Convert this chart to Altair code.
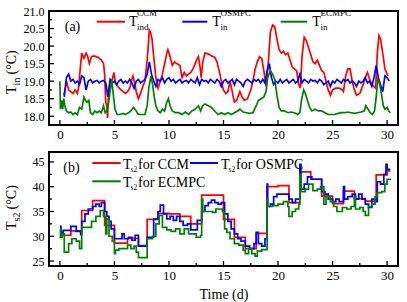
import altair as alt
import pandas as pd

FONT = "Liberation Serif"
RED, BLUE, GREEN = "#ff0000", "#0000ff", "#008000"

W, H = 349, 114
X_DOMAIN = [-1, 31]
TOP_Y = [17.75, 21.0]
BOT_Y = [24, 47]

x_major = [0, 5, 10, 15, 20, 25, 30]
x_minor = [2.5, 7.5, 12.5, 17.5, 22.5, 27.5]
top_y_major = [18.0, 18.5, 19.0, 19.5, 20.0, 20.5, 21.0]
top_y_minor = [18.25, 18.75, 19.25, 19.75, 20.25, 20.75]
bot_y_major = [25, 30, 35, 40, 45]
bot_y_minor = [27.5, 32.5, 37.5, 42.5]

# ---- panel (a): indoor temperatures (day, degC)
tin_ccm = [
    (0.35, 18.6), (0.5, 18.8), (0.6, 19.0), (0.8, 18.75), (1.0, 18.7), (1.2, 18.65), (1.4, 18.75),
    (1.6, 18.65), (1.7, 18.8), (1.85, 19.3), (2.0, 19.8), (2.2, 19.65), (2.4, 19.8), (2.55, 19.7),
    (2.7, 19.5), (2.9, 19.7), (3.1, 19.72), (3.3, 19.7), (3.5, 19.68), (3.8, 19.6), (4.0, 19.5),
    (4.1, 19.2), (4.2, 18.4), (4.3, 18.3), (4.37, 17.95), (4.45, 18.6), (4.6, 18.9), (4.8, 19.05),
    (4.95, 19.25), (5.1, 18.95), (5.3, 18.85), (5.6, 18.75), (5.8, 18.7), (6.0, 18.65), (6.2, 18.7),
    (6.4, 18.8), (6.55, 19.0), (6.7, 19.15), (6.85, 18.95), (7.0, 18.7), (7.2, 18.5), (7.4, 18.65),
    (7.6, 18.85), (7.8, 19.0), (8.0, 19.6), (8.1, 20.0), (8.2, 20.45), (8.3, 20.4), (8.45, 20.2),
    (8.6, 19.7), (8.8, 19.1), (9.0, 18.8), (9.2, 19.0), (9.4, 19.2), (9.6, 19.5), (9.8, 19.8),
    (9.9, 19.9), (10.1, 19.7), (10.3, 19.45), (10.5, 19.55), (10.7, 19.5), (11.0, 19.45), (11.2, 19.1),
    (11.4, 19.25), (11.6, 19.15), (11.8, 19.2), (12.0, 19.25), (12.2, 19.35), (12.4, 19.5), (12.6, 19.65),
    (12.7, 19.7), (12.85, 19.4), (12.95, 19.1), (13.1, 19.55), (13.3, 19.8), (13.6, 19.78), (13.9, 19.72),
    (14.2, 19.68), (14.4, 19.55), (14.6, 19.3), (14.8, 19.0), (15.0, 18.75), (15.2, 18.65), (15.4, 18.7),
    (15.6, 19.0), (15.8, 18.7), (16.0, 18.4), (16.2, 18.45), (16.5, 18.7), (16.7, 18.55), (16.9, 18.45),
    (17.2, 18.5), (17.5, 18.75), (17.7, 19.0), (17.9, 19.35), (18.1, 19.55), (18.3, 19.7), (18.5, 19.65),
    (18.7, 19.3), (18.9, 18.85), (19.1, 19.5), (19.3, 20.4), (19.5, 20.6), (19.7, 20.55), (19.9, 20.2),
    (20.1, 19.9), (20.3, 19.8), (20.5, 19.85), (20.7, 19.75), (20.9, 19.8), (21.1, 19.6), (21.3, 19.4),
    (21.5, 19.35), (21.7, 19.3), (21.9, 18.9), (22.05, 18.8), (22.2, 19.7), (22.4, 20.25), (22.6, 20.15),
    (22.8, 19.95), (23.0, 19.75), (23.2, 19.55), (23.4, 19.5), (23.6, 19.6), (23.8, 19.45), (24.0, 19.3),
    (24.2, 19.25), (24.4, 19.0), (24.6, 18.75), (24.8, 18.6), (25.0, 18.75), (25.3, 18.8), (25.6, 18.8),
    (25.9, 18.75), (26.0, 18.7), (26.2, 19.15), (26.4, 19.35), (26.6, 19.35), (26.8, 19.0), (27.0, 18.75),
    (27.2, 18.6), (27.5, 18.65), (27.8, 18.9), (28.0, 19.1), (28.2, 19.25), (28.4, 19.05), (28.6, 18.9),
    (28.8, 18.85), (28.95, 18.8), (29.1, 19.8), (29.25, 20.3), (29.4, 20.2), (29.6, 19.8), (29.8, 19.35),
    (30.0, 19.2), (30.1, 19.15),
]

tin_osmpc = [
    (0.4, 18.55), (0.6, 19.1), (0.8, 19.2), (1.0, 19.0), (1.2, 19.05), (1.4, 18.95), (1.6, 19.0), (1.8, 18.9), (2.0, 19.15), (2.2, 19.1),
    (2.4, 18.75), (2.6, 19.0), (2.8, 19.05), (3.0, 18.95), (3.2, 19.0), (3.4, 19.02), (3.6, 18.95), (3.8, 19.0), (4.0, 19.02), (4.2, 18.95),
    (4.4, 18.55), (4.6, 19.05), (4.8, 18.95), (5.0, 19.0), (5.2, 18.9), (5.4, 19.0), (5.6, 19.05), (5.8, 18.95), (6.0, 19.0), (6.2, 18.95),
    (6.4, 19.05), (6.6, 18.95), (6.8, 18.8), (7.0, 19.0), (7.2, 19.05), (7.4, 18.95), (7.6, 19.0), (7.8, 19.05), (8.0, 19.2), (8.2, 19.55),
    (8.4, 19.2), (8.6, 19.0), (8.8, 18.85), (9.0, 19.05), (9.2, 19.0), (9.4, 19.1), (9.6, 18.95), (9.8, 19.05), (10.0, 19.1), (10.2, 19.0),
    (10.4, 19.05), (10.6, 18.95), (10.8, 19.0), (11.0, 19.05), (11.2, 18.95), (11.4, 19.0), (11.6, 19.02), (11.8, 18.95), (12.0, 19.05), (12.2, 19.0),
    (12.4, 18.95), (12.6, 19.1), (12.8, 18.9), (13.0, 19.05), (13.2, 19.0), (13.4, 19.02), (13.6, 18.95), (13.8, 19.05), (14.0, 19.0), (14.2, 18.95),
    (14.4, 19.05), (14.6, 19.0), (14.8, 18.85), (15.0, 19.0), (15.2, 19.05), (15.4, 18.95), (15.6, 19.0), (15.8, 19.05), (16.0, 18.9), (16.2, 19.05),
    (16.4, 19.0), (16.6, 18.95), (16.8, 18.85), (17.0, 19.0), (17.2, 19.05), (17.4, 19.0), (17.6, 18.95), (17.8, 19.05), (18.0, 19.0), (18.2, 19.05),
    (18.4, 18.95), (18.6, 19.05), (18.8, 18.95), (19.0, 19.3), (19.2, 19.5), (19.4, 19.1), (19.6, 18.9), (19.8, 19.0), (20.0, 18.95), (20.2, 19.05),
    (20.4, 18.95), (20.6, 19.0), (20.8, 19.05), (21.0, 18.95), (21.2, 19.0), (21.4, 19.05), (21.6, 18.95), (21.8, 19.0), (22.0, 19.2), (22.2, 18.95),
    (22.4, 19.05), (22.6, 19.0), (22.8, 18.95), (23.0, 19.05), (23.2, 19.0), (23.4, 19.02), (23.6, 18.95), (23.8, 19.05), (24.0, 19.0), (24.2, 18.9),
    (24.4, 18.95), (24.6, 19.0), (24.8, 18.85), (25.0, 19.0), (25.2, 18.95), (25.4, 19.05), (25.6, 19.0), (25.8, 18.95), (26.0, 19.05), (26.2, 19.0),
    (26.4, 19.05), (26.6, 18.95), (26.8, 19.0), (27.0, 18.95), (27.2, 18.85), (27.4, 19.0), (27.6, 18.95), (27.8, 19.0), (28.0, 19.1), (28.2, 18.95),
    (28.4, 19.0), (28.6, 18.85), (28.8, 19.1), (29.0, 19.45), (29.2, 19.1), (29.4, 18.9), (29.6, 18.7), (29.8, 19.15), (30.0, 19.1), (30.2, 19.0),
]

tin_ecmpc = [
    (0.0, 19.0), (0.05, 18.2), (0.15, 18.45), (0.25, 18.2), (0.35, 18.5), (0.45, 18.3), (0.6, 18.15), (0.8, 18.1),
    (1.0, 18.12), (1.2, 18.05), (1.4, 18.1), (1.6, 18.05), (1.8, 18.25), (2.0, 18.2), (2.2, 18.55), (2.35, 18.45),
    (2.5, 18.4), (2.65, 18.45), (2.8, 18.1), (3.0, 18.05), (3.2, 18.15), (3.4, 18.1), (3.6, 18.15), (3.8, 18.1),
    (4.0, 18.3), (4.15, 18.1), (4.3, 18.15), (4.45, 18.35), (4.6, 18.7), (4.75, 19.05), (4.9, 18.6), (5.05, 18.2),
    (5.25, 18.05), (5.5, 18.05), (5.8, 18.08), (6.0, 18.05), (6.3, 18.1), (6.5, 18.15), (6.75, 18.25), (7.0, 18.15),
    (7.2, 18.05), (7.5, 18.05), (7.8, 18.05), (8.0, 18.3), (8.15, 18.8), (8.35, 19.15), (8.5, 18.9), (8.65, 18.55),
    (8.8, 18.3), (9.0, 18.15), (9.2, 18.1), (9.4, 18.2), (9.6, 18.15), (9.8, 18.4), (9.95, 18.5), (10.1, 18.3),
    (10.3, 18.15), (10.6, 18.1), (10.9, 18.1), (11.2, 18.05), (11.5, 18.12), (11.8, 18.05), (12.1, 18.15), (12.4, 18.2),
    (12.7, 18.3), (12.9, 18.15), (13.1, 18.3), (13.3, 18.35), (13.6, 18.3), (13.9, 18.25), (14.2, 18.15), (14.5, 18.05),
    (14.8, 18.1), (15.1, 18.05), (15.4, 18.1), (15.7, 18.05), (16.0, 18.1), (16.3, 18.15), (16.5, 18.2), (16.8, 18.12),
    (17.1, 18.1), (17.4, 18.08), (17.7, 18.1), (18.0, 18.3), (18.2, 18.45), (18.45, 18.5), (18.7, 18.55), (18.9, 18.7),
    (19.05, 19.1), (19.3, 19.3), (19.5, 19.2), (19.7, 19.05), (19.9, 18.6), (20.1, 18.25), (20.3, 18.15), (20.6, 18.15),
    (20.9, 18.1), (21.2, 18.12), (21.5, 18.1), (21.8, 18.05), (22.0, 18.1), (22.15, 18.45), (22.35, 18.75), (22.5, 18.65),
    (22.7, 18.45), (22.9, 18.25), (23.1, 18.15), (23.4, 18.2), (23.7, 18.15), (24.0, 18.15), (24.3, 18.1), (24.6, 18.05),
    (24.9, 18.05), (25.2, 18.05), (25.5, 18.08), (25.8, 18.1), (26.1, 18.1), (26.4, 18.12), (26.7, 18.1), (27.0, 18.08),
    (27.3, 18.1), (27.6, 18.12), (27.9, 18.15), (28.05, 18.3), (28.25, 18.2), (28.45, 18.1), (28.65, 18.05), (28.85, 18.15),
    (29.0, 18.55), (29.15, 19.05), (29.3, 18.95), (29.5, 18.6), (29.65, 18.3), (29.8, 18.2), (30.0, 18.25), (30.15, 18.15),
    (30.3, 18.1),
]

# ---- panel (b): supply water temperature Ts2 (step changes)
ts2_ccm = [
    (0.3, 30.2), (1.0, 31.1), (2.0, 35.2), (3.0, 37.2), (4.1, 32.2), (5.0, 28.6), (6.2, 29.6), (7.2, 28.1),
    (8.0, 33.4), (9.0, 34.6), (10.0, 34.5), (11.0, 34.0), (12.0, 32.5), (13.0, 38.3), (15.0, 33.4),
    (16.0, 29.8), (17.0, 27.5), (18.0, 30.6), (19.0, 40.0), (20.0, 40.2), (21.0, 36.8), (22.0, 43.0),
    (23.0, 41.5), (24.0, 38.1), (25.0, 36.6), (26.0, 39.1), (27.0, 37.6), (28.0, 37.1), (29.0, 42.4),
    (30.0, 43.2), (30.3, 43.2),
]

ts2_osmpc = [
    (0.0, 32.0), (0.1, 30.8), (0.3, 31.2), (1.0, 32.0), (1.5, 31.0), (1.9, 30.3), (2.0, 33.0), (2.3, 34.5),
    (2.6, 35.5), (3.0, 36.0), (3.3, 36.5), (3.6, 36.0), (3.8, 36.8), (4.1, 35.0), (4.3, 34.0), (4.5, 33.0),
    (4.7, 31.5), (5.0, 29.5), (5.7, 30.5), (5.9, 29.5), (6.3, 29.8), (6.6, 29.2), (6.9, 30.2), (7.2, 28.0),
    (8.0, 29.8), (8.6, 33.5), (9.0, 35.0), (9.2, 36.3), (9.5, 34.5), (9.8, 33.5), (10.1, 34.0), (10.4, 33.2),
    (10.7, 34.0), (11.0, 33.0), (11.3, 32.2), (11.7, 32.5), (12.0, 31.3), (12.6, 33.2), (13.0, 35.0),
    (13.3, 36.2), (13.6, 36.8), (13.9, 37.3), (14.2, 36.8), (14.5, 36.5), (14.8, 36.8), (15.1, 34.5),
    (15.4, 33.0), (15.7, 31.5), (16.0, 30.5), (16.3, 29.5), (16.6, 29.0), (17.0, 28.0), (17.4, 27.5),
    (17.8, 28.5), (18.0, 30.8), (18.2, 28.5), (18.5, 28.0), (18.8, 29.5), (19.0, 40.5), (19.05, 36.0),
    (19.3, 36.5), (19.6, 38.0), (19.9, 38.5), (21.0, 37.5), (21.3, 36.8), (21.6, 37.5), (22.0, 44.5),
    (22.1, 39.5), (22.4, 40.5), (22.7, 42.0), (23.1, 41.5), (24.0, 39.0), (24.3, 38.5), (24.6, 37.5),
    (25.0, 37.0), (25.3, 37.5), (25.6, 37.0), (26.0, 40.0), (26.1, 37.5), (26.4, 38.0), (26.8, 38.5),
    (27.1, 37.5), (27.4, 38.5), (27.7, 37.5), (28.0, 36.5), (28.3, 35.8), (28.6, 37.5), (28.9, 37.0),
    (29.1, 41.0), (29.4, 40.5), (29.7, 42.5), (29.9, 44.5), (30.0, 43.5), (30.3, 43.5),
]

ts2_ecmpc = [
    (0.0, 31.3), (0.05, 29.8), (0.2, 30.5), (0.4, 26.8), (0.8, 28.5), (1.1, 29.5), (1.5, 29.0), (1.8, 27.5),
    (2.0, 31.8), (2.9, 33.0), (3.3, 34.0), (3.7, 35.2), (4.0, 34.0), (4.2, 30.5), (4.3, 33.5), (4.5, 30.0),
    (4.8, 29.0), (5.0, 26.5), (5.1, 27.2), (5.4, 27.5), (6.2, 28.2), (6.5, 27.5), (6.8, 28.0), (7.0, 26.8),
    (7.2, 25.7), (8.0, 29.5), (8.5, 30.0), (8.8, 32.5), (9.1, 34.2), (9.4, 31.8), (9.8, 31.3), (10.2, 31.0),
    (10.6, 31.5), (11.0, 30.5), (11.4, 31.5), (11.8, 30.5), (12.5, 29.8), (12.9, 30.2), (13.0, 37.5),
    (13.1, 35.0), (14.0, 34.8), (14.3, 35.5), (14.9, 35.0), (15.1, 31.5), (15.3, 30.8), (15.6, 29.5),
    (16.0, 28.5), (16.4, 28.2), (16.8, 27.2), (17.0, 26.5), (17.3, 27.5), (17.6, 26.5), (17.9, 26.0),
    (18.1, 27.0), (18.5, 27.3), (19.0, 37.5), (19.05, 36.0), (19.5, 36.2), (20.0, 36.5), (20.5, 37.0),
    (20.9, 36.0), (21.0, 34.0), (21.3, 35.0), (21.6, 35.5), (21.9, 36.5), (22.0, 42.5), (22.1, 39.0),
    (22.5, 39.5), (22.8, 40.5), (23.2, 39.2), (23.6, 39.5), (23.9, 40.0), (24.2, 36.5), (24.4, 38.0),
    (24.8, 37.0), (25.1, 36.0), (25.4, 35.0), (25.9, 35.8), (26.3, 35.5), (26.7, 36.0), (27.0, 38.0),
    (27.1, 35.5), (27.5, 35.8), (27.8, 35.0), (28.0, 34.2), (28.3, 36.0), (28.6, 36.5), (28.9, 38.0),
    (29.1, 38.8), (29.5, 39.0), (29.8, 40.5), (30.0, 41.5), (30.3, 41.3),
]


def frame(pairs):
    return pd.DataFrame(pairs, columns=["t", "v"])


def x_enc(title=None):
    kw = dict(values=x_major, ticks=False, tickSize=0, domain=False, grid=False,
              labelFont=FONT, labelFontSize=13, labelColor="black", labelPadding=3,
              labelFlush=False, labelOverlap=False)
    if title:
        kw.update(title=title, titleFont=FONT, titleFontSize=14, titleFontWeight="normal",
                  titleColor="black", titlePadding=5)
    return alt.X("t:Q", scale=alt.Scale(domain=X_DOMAIN, nice=False, zero=False),
                 axis=alt.Axis(**kw), title=title if title else None)


def y_enc(domain, values, fmt):
    return alt.Y("v:Q", scale=alt.Scale(domain=domain, nice=False, zero=False),
                 axis=alt.Axis(values=values, format=fmt, ticks=False, tickSize=0, domain=False,
                               grid=False, labelFont=FONT, labelFontSize=12, labelColor="black",
                               labelPadding=5, labelFlush=False, labelOverlap=False),
                 title=None)


def series(pairs, color, xe, ye, step=False):
    kw = dict(color=color, strokeWidth=1.7, clip=True)
    if step:
        kw["interpolate"] = "step-after"
    return alt.Chart(frame(pairs)).mark_line(**kw).encode(x=xe, y=ye)


def xticks(vals, length, xe):
    return alt.Chart(pd.DataFrame({"t": vals})).mark_rule(color="black", strokeWidth=1.3).encode(
        x=xe, y=alt.value(H), y2=alt.value(H - length))


def yticks(vals, length, ye):
    return alt.Chart(pd.DataFrame({"v": vals})).mark_rule(color="black", strokeWidth=1.3).encode(
        y=ye, x=alt.value(0), x2=alt.value(length))


def txt(s, x, y, size, angle=0, align="left", baseline="alphabetic"):
    kw = dict(text=s, font=FONT, fontSize=size, color="black", align=align, baseline=baseline)
    if angle:
        kw["angle"] = angle
    return alt.Chart(pd.DataFrame({"a": [0]})).mark_text(**kw).encode(
        x=alt.value(x), y=alt.value(y))


def key(x1, x2, y, color):
    return alt.Chart(pd.DataFrame({"a": [0]})).mark_rule(color=color, strokeWidth=2).encode(
        x=alt.value(x1), x2=alt.value(x2), y=alt.value(y))


# ---------- top panel
xa = x_enc()
ya = y_enc(TOP_Y, top_y_major, ".1f")
top_layers = [
    series(tin_ccm, RED, xa, ya),
    series(tin_osmpc, BLUE, xa, ya),
    series(tin_ecmpc, GREEN, xa, ya),
    xticks(x_major, 5, xa), xticks(x_minor, 3, xa),
    yticks(top_y_major, 5, ya), yticks(top_y_minor, 3, ya),
    # rotated axis title  T_in (°C)
    txt("T", -33, 83, 14, angle=270),
    txt("in", -29.5, 74.4, 10, angle=270),
    txt("(°C)", -33, 63.5, 14, angle=270),
    # panel label and legend
    txt("(a)", 23.5, 15.5, 14, align="center", baseline="middle"),
    key(47.7, 76, 10.7, RED), txt("T", 80, 14.5, 14), txt("ind", 88, 18.5, 9), txt("CCM", 88, 5, 9),
    key(133.3, 158.3, 10.7, BLUE), txt("T", 163.3, 14.5, 14), txt("in", 171.5, 18.5, 9), txt("OSMPC", 171.5, 5, 9),
    key(231.7, 258.3, 10.7, GREEN), txt("T", 263.3, 14.5, 14), txt("in", 271.5, 18.5, 9), txt("ECMPC", 271.5, 5, 9),
]
top = alt.layer(*top_layers).properties(width=W, height=H)

# ---------- bottom panel
xb = x_enc("Time (d)")
yb = y_enc(BOT_Y, bot_y_major, "d")
bot_layers = [
    series(ts2_ccm, RED, xb, yb, step=True),
    series(ts2_osmpc, BLUE, xb, yb, step=True),
    series(ts2_ecmpc, GREEN, xb, yb, step=True),
    xticks(x_major, 5, xb), xticks(x_minor, 3, xb),
    yticks(bot_y_major, 5, yb), yticks(bot_y_minor, 3, yb),
    txt("T", -33, 78, 14, angle=270),
    txt("s2", -29.5, 69.4, 10, angle=270),
    txt("(°C)", -33, 57.4, 14, angle=270),
    txt("(b)", 22.5, 16, 14, align="center", baseline="middle"),
    key(43.3, 71.7, 11, RED), txt("T", 74, 17, 14), txt("s2", 81.5, 20, 7.5), txt("for CCM", 89, 17, 14),
    key(141, 169, 11, BLUE), txt("T", 172, 17, 14), txt("s2", 179.5, 20, 7.5), txt("for OSMPC", 187, 17, 14),
    key(43.3, 71.7, 29.3, GREEN), txt("T", 74, 35, 14), txt("s2", 81.5, 38, 7.5), txt("for ECMPC", 89, 35, 14),
]
bottom = alt.layer(*bot_layers).properties(width=W, height=H)

chart = alt.vconcat(top, bottom, spacing=9).properties(
    padding={"left": 3, "top": 4, "right": 7, "bottom": 3},
    background="white",
).configure_view(stroke="black", strokeWidth=2)

chart.save("out.html", embed_options={"renderer": "svg", "actions": False})
